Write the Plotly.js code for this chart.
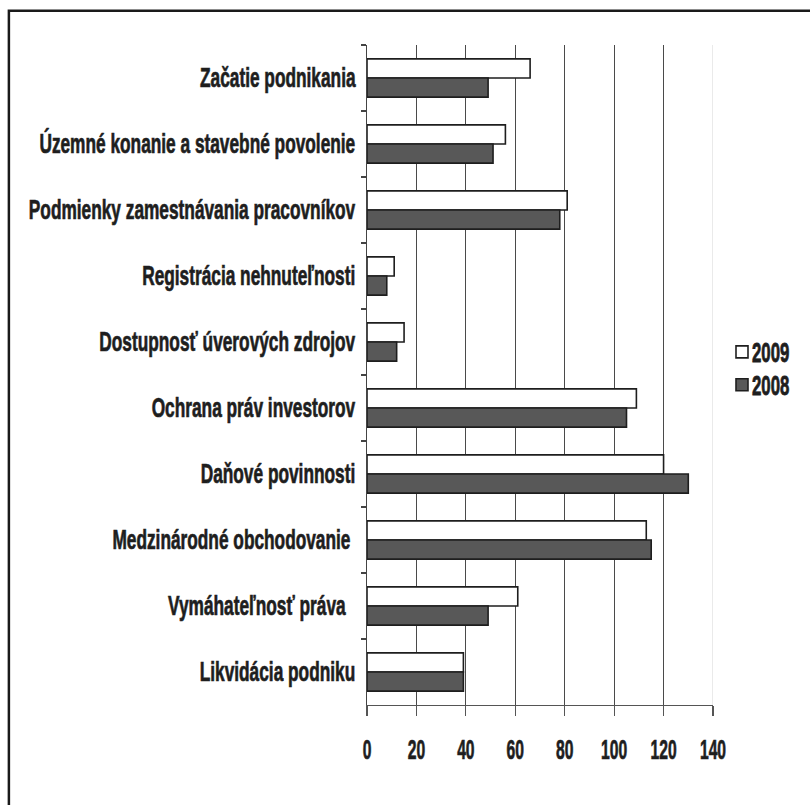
<!DOCTYPE html>
<html>
<head>
<meta charset="utf-8">
<script src="https://cdn.plot.ly/plotly-3.0.1.min.js"></script>
<style>
html,body{margin:0;padding:0;background:#fff;}
#chart{width:810px;height:805px;}
.ytick text, .xtick text, .legendtext { stroke: #1e1e1e; stroke-width: 0.7px; }
</style>
</head>
<body>
<div id="chart"></div>
<script>
var categories = [
  "Začatie podnikania",
  "Územné konanie a stavebné povolenie",
  "Podmienky zamestnávania pracovníkov",
  "Registrácia nehnuteľnosti",
  "Dostupnosť úverových zdrojov",
  "Ochrana práv investorov",
  "Daňové povinnosti",
  "Medzinárodné obchodovanie\u00a0",
  "Vymáhateľnosť práva\u00a0\u00a0",
  "Likvidácia podniku"
];
var values2009 = [66, 56, 81, 11, 15, 109, 120, 113, 61, 39];
var values2008 = [49, 51, 78, 8, 12, 105, 130, 115, 49, 39];
var seriesNames = ["2009", "2008"];
var xTicks = [0, 20, 40, 60, 80, 100, 120, 140];

var FONT = "'Liberation Sans Narrow', 'Liberation Sans', Arial, sans-serif";
function f(size) {
  return {family: FONT, size: size, color: "#1e1e1e", weight: "bold"};
}

var traces = [
  {
    type: "bar", orientation: "h", name: seriesNames[0],
    y: categories, x: values2009,
    marker: {color: "#ffffff", line: {color: "#1e1e1e", width: 1.6}}
  },
  {
    type: "bar", orientation: "h", name: seriesNames[1],
    y: categories, x: values2008,
    marker: {color: "#585858", line: {color: "#1e1e1e", width: 1.6}}
  }
];

var layout = {
  width: 810, height: 805,
  margin: {l: 367, r: 97, t: 45, b: 100, autoexpand: false},
  paper_bgcolor: "#ffffff", plot_bgcolor: "#ffffff",
  barmode: "group", bargap: 0.42, bargroupgap: 0,
  font: f(27),
  xaxis: {
    range: [xTicks[0], xTicks[xTicks.length - 1]],
    tickvals: xTicks, ticktext: xTicks.map(String),
    showgrid: true, gridcolor: "#4a4a4a", gridwidth: 1,
    zeroline: false,
    showline: true, linecolor: "#555555", linewidth: 1.2,
    ticks: "outside", ticklen: 10, tickcolor: "#555555", tickwidth: 1.2,
    ticklabelstandoff: 10,
    tickfont: f(27),
    automargin: false,
    fixedrange: true
  },
  yaxis: {
    type: "category", autorange: "reversed",
    showgrid: false, zeroline: false,
    showline: true, linecolor: "#444444", linewidth: 1.4,
    ticks: "outside", ticklen: 5, tickcolor: "#444444", tickwidth: 1.2,
    tickson: "boundaries",
    ticklabelstandoff: 5,
    tickfont: f(27),
    automargin: false,
    fixedrange: true
  },
  legend: {
    x: 1.026, y: 0.51, xanchor: "left", yanchor: "middle",
    font: f(23),
    bgcolor: "rgba(0,0,0,0)", borderwidth: 0,
    traceorder: "normal"
  },
  shapes: [
    {type: "line", xref: "x", yref: "paper",
     x0: xTicks[xTicks.length - 1], x1: xTicks[xTicks.length - 1], y0: 0, y1: 1,
     line: {color: "#dddddd", width: 1.2}, layer: "below"},
    {type: "rect", xref: "paper", yref: "paper",
     x0: -1.035, x1: 1.4, y0: -0.2, y1: 1.052,
     line: {color: "#1a1a1a", width: 2.5}, fillcolor: "rgba(0,0,0,0)", layer: "above"}
  ]
};

// Horizontally condense text (the reference uses a tall, very narrow bold face)
function condense(sel, sx, sy, anchor, dx) {
  document.querySelectorAll(sel).forEach(function (t) {
    var b = t.getBBox();
    var ax = anchor === "end" ? b.x + b.width : (anchor === "middle" ? b.x + b.width / 2 : b.x);
    var ay = b.y + b.height / 2;
    var tr = t.getAttribute("transform") || "";
    t.setAttribute("transform", tr + " translate(" + (ax + dx) + "," + ay + ") scale(" + sx + "," + sy + ") translate(" + (-ax) + "," + (-ay) + ")");
  });
}

Plotly.newPlot("chart", traces, layout, {displayModeBar: false, staticPlot: true}).then(function () {
  condense(".ytick text", 0.64, 1, "end", 0);
  condense(".xtick text", 0.58, 1, "middle", 0);
  condense(".legendtext", 0.73, 1.17, "start", -10);
});
</script>
</body>
</html>
